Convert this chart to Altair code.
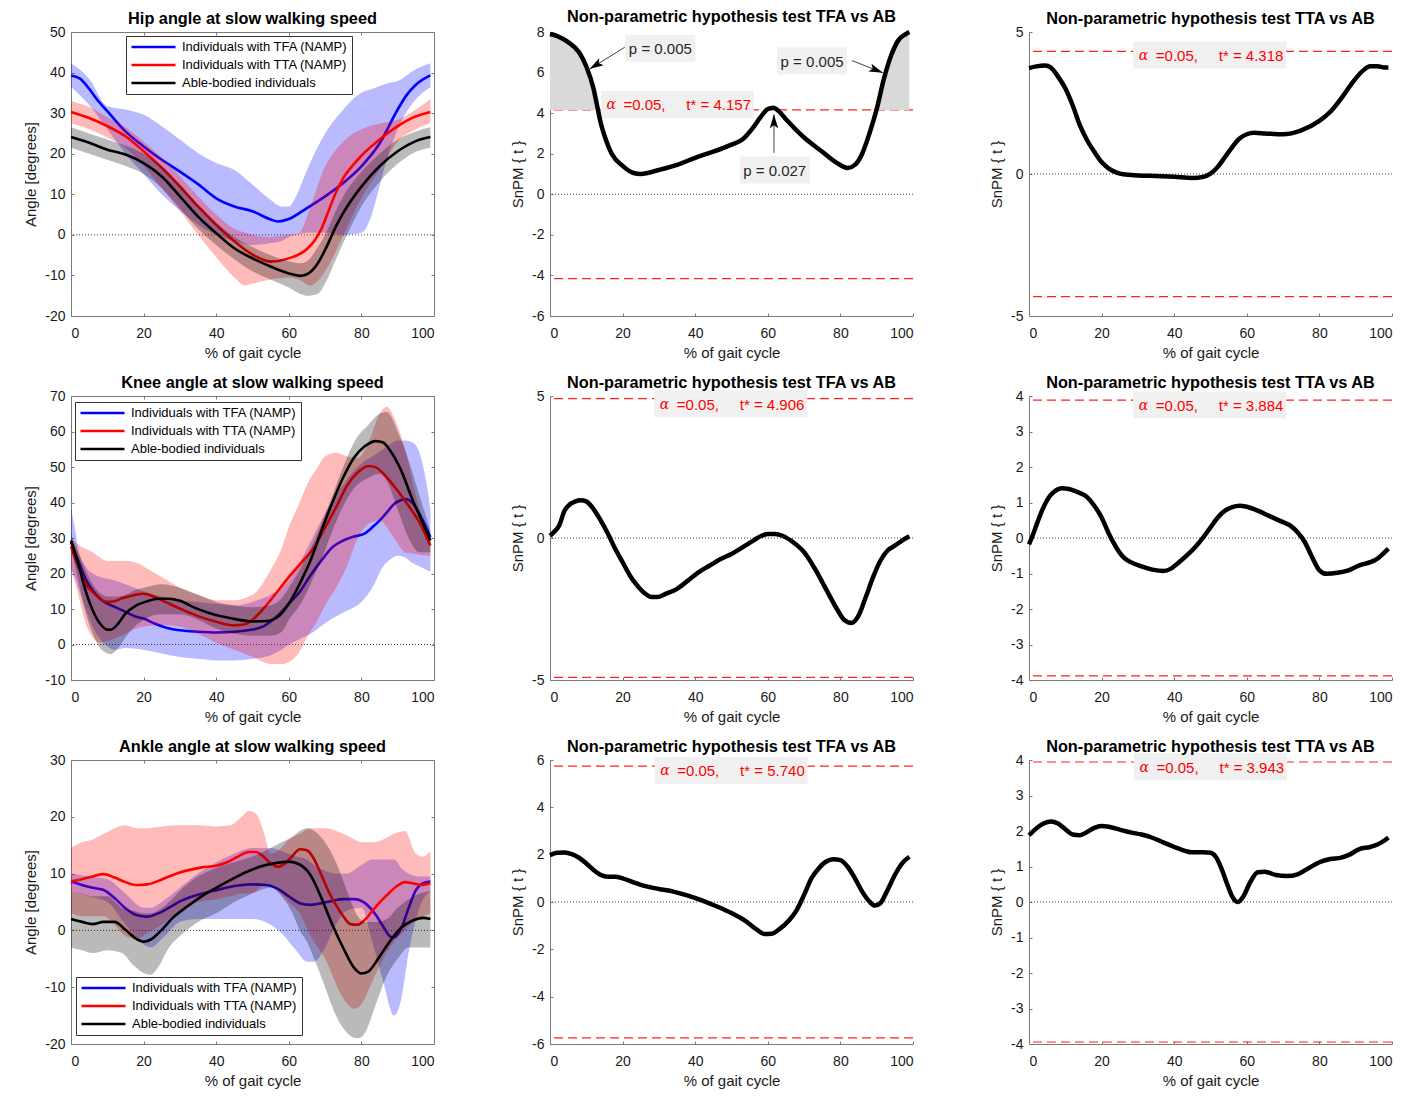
import altair as alt
import pandas as pd

FONT = "Liberation Sans"
TFA = "Individuals with TFA (NAMP)"
TTA = "Individuals with TTA (NAMP)"
AB = "Able-bodied individuals"
GROUPS = [TFA, TTA, AB]
GROUP_COLORS = ["#0000ff", "#ff0000", "#000000"]
X_TICKS = [0, 20, 40, 60, 80, 100]

# ---------------- Hip angle ----------------
HIP_TFA_X = [0, 2.5, 5, 7.5, 10, 15, 20, 25, 30, 35, 40, 45, 50, 55, 57, 60, 65, 70, 75, 80, 85, 90, 92.5, 95, 99]
HIP_TFA_Y = [39.3, 38.5, 36, 33, 30.5, 25.5, 21.8, 18.5, 15.6, 12.5, 9, 7, 5.8, 3.8, 3.3, 3.9, 6.6, 9.5, 12.8, 16.9, 22.5, 30.9, 34.5, 37, 39.3]
HIP_TFA_BX = [0, 5, 10, 15, 20, 25, 30, 35, 40, 45, 50, 55, 58, 60, 62, 65, 70, 75, 80, 83, 85, 87, 90, 95, 99]
HIP_TFA_LO = [36.5, 32, 26, 20, 15, 10, 6, 2.5, 0, -1.5, -2.5, -2, -1.5, -0.5, 0, 0.5, 0.5, 0, 0.5, 5.4, 12, 18.5, 26, 33.4, 36.4]
HIP_TFA_HI = [42.3, 38.5, 31.7, 30.9, 29.6, 26.8, 23.5, 20.2, 17.7, 16, 12.4, 8.6, 7, 7, 9.5, 16, 25, 30.9, 35, 36, 36.7, 37.3, 37.9, 40.8, 42.3]

HIP_TTA_X = [0, 5, 10, 15, 20, 25, 30, 35, 40, 45, 50, 55, 60, 65, 67, 69, 71, 73, 75, 78, 80, 85, 90, 95, 99]
HIP_TTA_Y = [30.3, 28.8, 26.8, 24.3, 20.6, 16.5, 11.9, 7, 2.5, -1.6, -4.9, -6.6, -5.8, -3.5, -1.5, 1.5, 6, 10.5, 14, 17.5, 19.5, 23.5, 26.8, 29.2, 30.3]
HIP_TTA_BX = [0, 5, 10, 15, 20, 25, 30, 35, 40, 45, 48, 50, 55, 60, 62.7, 66, 70, 73, 75.6, 80, 85.7, 90, 95, 99]
HIP_TTA_LO = [27.5, 26, 24, 21.5, 17, 11.5, 6, 0, -5.5, -10.5, -12.5, -12, -11, -10.5, -11, -12.5, -9, -4, 1, 9, 17, 23, 26, 27.5]
HIP_TTA_HI = [33, 31.5, 29, 26.5, 23, 19, 14.5, 9.5, 5, 1.5, 0.5, 0, -0.5, 0, 0.4, 7, 16.9, 21, 23.5, 26, 27.6, 28.4, 30.9, 33.4]

HIP_AB_X = [0, 5, 10, 15, 20, 25, 30, 35, 40, 45, 50, 55, 60, 63, 65, 68, 70, 73, 75, 80, 85, 90, 95, 99]
HIP_AB_Y = [24.1, 22.7, 21, 19.8, 17.7, 14.4, 9.5, 4.5, 0.4, -3.3, -5.8, -7.8, -9.5, -10.1, -9.7, -7, -3.7, 2.1, 5.4, 11.9, 16.9, 20.6, 23.1, 24.1]
HIP_AB_LO = [21.5, 20, 18.5, 17, 15, 11.5, 6.5, 1.5, -2.5, -6, -9, -11, -13, -14.5, -15, -14.5, -12, -6, -2, 7, 13, 17.5, 20.5, 21.5]
HIP_AB_HI = [26.5, 25, 23.5, 22, 20, 17, 12.5, 7.5, 3, -0.5, -3, -5, -6.5, -7, -6.5, -3, 0, 6, 9.5, 15.5, 20, 23.5, 25.5, 26.5]

# ---------------- Knee angle ----------------
KNEE_TFA_X = [0, 2, 4, 6, 8, 10, 12, 15, 18, 20, 23, 26, 30, 35, 40, 45, 50, 53, 56, 58, 60, 63, 66, 69, 72, 75, 78, 81, 83, 85, 87, 89, 91, 92, 94, 96, 98, 99]
KNEE_TFA_Y = [28.8, 23.7, 18.5, 15.2, 12.9, 11.5, 10.6, 9.2, 7.8, 7.3, 5.9, 4.8, 4.0, 3.6, 3.4, 3.6, 4.2, 5.1, 7.3, 9.2, 11.5, 14.8, 19.5, 23.7, 27.4, 29.3, 30.4, 31.3, 33.0, 34.9, 37.2, 39.6, 40.7, 41.0, 40.0, 36.8, 32.6, 30.2]
KNEE_TFA_BX = [0, 1, 2, 4, 6, 8, 10, 12, 15, 20, 25, 30, 35, 40, 45, 50, 55, 58, 60, 63, 66, 70, 75, 78, 80, 83, 86, 88, 90, 92, 94, 96, 98, 99]
KNEE_TFA_LO = [21, 19, 16, 10, 5, 1.5, -0.5, -1.5, -1, -1.5, -2.5, -3.5, -4, -4.5, -4.5, -4, -3, -1.5, 0, 1.5, 3, 6, 9, 10.5, 12, 16, 22, 24, 25, 24.5, 23, 22, 21, 20.5]
KNEE_TFA_HI = [38.6, 33, 27, 22, 20, 19, 18.5, 18, 17, 15, 13.5, 12.5, 12, 11.5, 11, 12, 14, 16, 18, 23, 29, 37, 45, 49, 51, 53, 55, 56.5, 57.5, 57.5, 57, 54, 45, 38]

KNEE_TTA_X = [0, 2, 4, 6, 8, 10, 12, 14, 17, 20, 23, 26, 30, 35, 40, 45, 48, 50, 53, 56, 60, 64, 67, 70, 73, 76, 79, 82, 84, 87, 90, 93, 96, 99]
KNEE_TTA_Y = [27.6, 22, 17, 14.8, 12.9, 12.0, 12.2, 13, 13.8, 14.3, 13.4, 12.0, 10.1, 8.0, 6.4, 5.4, 5.7, 7.0, 10.1, 13.8, 19.0, 23.7, 27.4, 33.0, 38.6, 44.7, 48.5, 50.3, 49.9, 47.1, 43.3, 39.1, 34.4, 27.9]
KNEE_TTA_BX = [0, 2, 4, 6, 8, 10, 15, 18, 20, 25, 30, 35, 40, 45, 50, 55, 58, 60, 63, 65, 68, 70, 73, 76, 79, 82, 85, 87, 89, 92, 95, 98, 99]
KNEE_TTA_LO = [22, 14, 6, 2, 0.5, 1, 3, 4.5, 5, 5.5, 5, 3, 0.5, -1.5, -3.5, -5.5, -5.5, -5, -2, 2, 7, 11, 16, 22, 30, 34, 35, 33, 30, 26, 25.5, 25, 25]
KNEE_TTA_HI = [30, 28, 27, 26, 24.5, 23.5, 23.5, 23, 22, 19, 16, 14, 12.5, 12.5, 14, 21, 27, 33, 40, 45, 50, 53, 54, 53, 52.5, 57, 65, 67, 64, 55, 42, 32, 29]

KNEE_AB_X = [0, 2, 4, 6, 8, 10, 11, 13, 15, 18, 21, 24, 27, 30, 34, 38, 42, 46, 50, 54, 57, 60, 63, 66, 69, 72, 75, 78, 81, 84, 86, 88, 91, 94, 97, 99]
KNEE_AB_Y = [29.3, 22.7, 15.2, 9.6, 5.9, 4.2, 4.2, 5.9, 8.7, 11.0, 12.2, 12.9, 12.9, 12.3, 10.4, 8.9, 7.8, 7.0, 6.5, 6.6, 7.8, 11.5, 17.1, 23.7, 32.1, 40.0, 47.1, 52.7, 55.9, 57.3, 56.9, 54.5, 48.9, 41.0, 34.0, 29.3]
KNEE_AB_BX = [0, 2, 4, 6, 8, 10, 11, 13, 15, 18, 20, 25, 30, 35, 40, 45, 50, 55, 58, 60, 63, 66, 69, 72, 75, 78, 82, 85, 87, 90, 93, 96, 99]
KNEE_AB_LO = [27, 18, 9, 3, -1, -2.5, -2.7, -1, 2, 5.5, 7, 8.5, 8.5, 7, 4.5, 3, 2.5, 2.5, 3.5, 7, 11, 17, 24, 32, 39, 44, 47, 48, 46, 38, 30, 26, 26]
KNEE_AB_HI = [31, 26, 21, 17, 14.5, 13.5, 13.5, 13.5, 14, 15.5, 16, 17, 16, 14, 12, 11, 10.5, 11, 13, 16, 21, 27, 34, 42, 50, 57, 62, 65, 65.5, 60, 52, 42, 32]

# ---------------- Ankle angle ----------------
ANK_TFA_X = [0, 3, 6, 9, 12, 15, 18, 21, 24, 27, 30, 34, 38, 42, 46, 50, 54, 57, 60, 63, 66, 69, 72, 75, 78, 81, 84, 86, 88, 89, 91, 93, 95, 97, 99]
ANK_TFA_Y = [8.6, 8.0, 7.5, 7.1, 5.7, 3.9, 2.7, 2.4, 3.0, 4.0, 5.1, 6.1, 6.8, 7.4, 7.9, 8.1, 8.0, 7.3, 6.0, 4.8, 4.5, 4.8, 5.2, 5.5, 5.5, 4.8, 2.7, 0.7, -1.1, -1.2, 0.4, 3.9, 7.1, 8.3, 8.6]
ANK_TFA_BX = [0, 5, 10, 15, 20, 22, 25, 30, 35, 40, 45, 50, 55, 58, 62, 65, 67, 70, 73, 76, 80, 83, 86, 89, 91, 93, 96, 99]
ANK_TFA_LO = [7, 6, 5, 1, -2.5, -3, -1.5, 1.5, 2, 2, 2, 2, 1, -0.5, -3.5, -5.5, -5.5, -3, 1, 3.5, 4, -2, -9, -15, -12, -4, 4, 7]
ANK_TFA_HI = [10, 9.5, 9, 6.5, 4, 4, 5, 7.5, 10, 12, 13.5, 14.5, 14.5, 14, 13, 12.5, 11.5, 10.5, 10, 10, 11.5, 12.5, 12.5, 12.5, 11, 10, 9.5, 9.5]

ANK_TTA_X = [0, 3, 6, 9, 12, 15, 18, 21, 24, 27, 30, 33, 36, 40, 43, 46, 49, 51, 53, 55, 57, 59, 61, 63, 65, 67, 69, 71, 73, 75, 77, 79, 81, 84, 87, 90, 92, 94, 97, 99]
ANK_TTA_Y = [8.6, 9.0, 9.5, 9.9, 9.3, 8.5, 8.0, 8.1, 8.7, 9.5, 10.2, 10.7, 11.1, 11.4, 12.0, 13.0, 13.8, 13.8, 13.0, 11.8, 11.2, 11.8, 13.1, 14.3, 14.1, 12.5, 9.7, 6.8, 4.5, 2.5, 1.1, 1.0, 1.9, 4.2, 6.2, 7.9, 8.5, 8.3, 8.0, 8.3]
ANK_TTA_BX = [0, 3, 6, 9, 12, 15, 18, 21, 25, 30, 35, 40, 44, 47, 49, 51, 53, 55, 57, 60, 63, 66, 70, 75, 78, 80, 83, 86, 89, 92, 95, 97, 99]
ANK_TTA_LO = [3, 2.5, 2.5, 2.5, 1, -1, -1.5, -0.5, 1, 3.5, 5, 5.5, 6, 6.5, 6.5, 7, 8, 8, 7, 5, 3, -1, -5, -12, -13.8, -13, -9, -5, -2, 0, 2, 2.5, 3]
ANK_TTA_HI = [14.5, 15.5, 16, 17, 18, 18.5, 18, 18, 18.3, 18.5, 18.5, 18.3, 18.5, 20, 21, 20.5, 17.5, 13.5, 14, 16, 17, 18, 18, 17, 16, 15.5, 15.5, 16, 17, 17.5, 13.5, 13, 14]

ANK_AB_X = [0, 3, 6, 9, 12, 15, 18, 20, 22, 25, 28, 32, 36, 40, 44, 48, 52, 56, 60, 63, 66, 69, 72, 75, 78, 80, 82, 85, 88, 91, 94, 97, 99]
ANK_AB_Y = [2.0, 1.5, 1.1, 1.5, 1.5, 0.1, -1.5, -2.0, -1.6, 0.1, 2.2, 4.2, 6.0, 7.5, 8.9, 10.2, 11.2, 11.8, 12.1, 11.6, 9.7, 5.7, 1.0, -3.1, -6.6, -7.6, -7.2, -4.6, -1.8, 0.5, 1.7, 2.2, 2.0]
ANK_AB_BX = [0, 3, 6, 10, 14, 17, 20, 22, 24, 27, 30, 35, 40, 45, 50, 55, 58, 61, 63, 65, 67, 70, 73, 76, 79, 81, 84, 87, 90, 93, 96, 99]
ANK_AB_LO = [-3, -3.5, -4, -3.5, -4, -6, -7.5, -7.8, -6.5, -3, -1, 1.5, 3, 5, 6.5, 7.5, 6, 3, 0, -2, -5, -10, -15, -18, -19, -18, -13, -8, -5, -3, -3, -3]
ANK_AB_HI = [7, 6.5, 6, 6, 4, 3.5, 3, 3, 3.5, 5, 7, 9.5, 11, 12, 13, 14.5, 15.5, 16.5, 17.5, 18, 17.5, 15.5, 12, 7, 2.5, 1.5, 1.5, 2, 4, 5.5, 6.5, 7]

# ---------------- SnPM{t} curves ----------------
HIP_SPM_TFA_X = [0, 2, 5, 8, 10, 12, 13, 14, 15, 17, 20, 23, 25, 30, 35, 40, 45, 50, 53, 56, 58, 60, 61.5, 63, 65, 70, 75, 79, 82, 84, 86, 88, 90, 92, 94, 96, 98, 99]
HIP_SPM_TFA_T = [7.9, 7.8, 7.5, 7.0, 6.3, 5.2, 4.35, 3.5, 2.9, 2.0, 1.4, 1.05, 1.0, 1.2, 1.45, 1.8, 2.1, 2.45, 2.7, 3.3, 3.8, 4.2, 4.27, 4.1, 3.7, 2.8, 2.1, 1.55, 1.3, 1.45, 2.0, 3.0, 4.2, 5.7, 6.85, 7.6, 7.9, 8.0]
HIP_SPM_TTA_X = [0, 2, 4.5, 6, 8, 10, 12, 14, 16, 18, 20, 22, 24, 26, 30, 35, 40, 45, 48, 50, 52, 54, 56, 58, 60, 62, 65, 70, 75, 80, 83, 86, 89, 92, 94, 96, 98, 99]
HIP_SPM_TTA_T = [3.73, 3.79, 3.82, 3.75, 3.43, 3.02, 2.43, 1.72, 1.19, 0.78, 0.42, 0.19, 0.06, -0.01, -0.05, -0.07, -0.1, -0.14, -0.1, 0.01, 0.25, 0.6, 0.95, 1.25, 1.4, 1.45, 1.43, 1.4, 1.54, 1.87, 2.19, 2.66, 3.2, 3.64, 3.79, 3.79, 3.75, 3.75]
KNEE_SPM_TFA_X = [0, 1, 2.5, 4, 5, 7, 8.5, 10, 12, 14, 16, 18, 20, 22, 24, 26, 28, 29.5, 32, 35, 38, 41, 44, 47, 50, 53, 56, 58, 60, 62, 64, 67, 70, 73, 76, 79, 81, 83, 85, 87, 89, 91, 93, 95, 97, 99]
KNEE_SPM_TFA_T = [0.08, 0.2, 0.43, 0.96, 1.13, 1.29, 1.33, 1.29, 1.02, 0.61, 0.14, -0.39, -0.85, -1.32, -1.67, -1.94, -2.08, -2.08, -1.96, -1.79, -1.5, -1.2, -0.97, -0.74, -0.56, -0.33, -0.09, 0.06, 0.14, 0.14, 0.08, -0.15, -0.5, -1.09, -1.79, -2.49, -2.88, -2.99, -2.73, -2.08, -1.38, -0.8, -0.44, -0.27, -0.09, 0.06]
KNEE_SPM_TTA_X = [0, 1, 2.5, 4, 5.5, 7, 9, 11, 13, 16, 18, 20, 22, 24, 26, 28, 31, 34, 37, 39, 41, 44, 46, 48, 50, 52, 54, 56, 58, 60, 63, 66, 69, 72, 74, 76, 78, 80, 82, 85, 88, 91, 94, 96, 98, 99]
KNEE_SPM_TTA_T = [-0.18, 0.07, 0.49, 0.87, 1.15, 1.31, 1.4, 1.38, 1.31, 1.15, 0.91, 0.58, 0.12, -0.26, -0.54, -0.68, -0.8, -0.89, -0.93, -0.87, -0.71, -0.44, -0.23, 0.02, 0.3, 0.58, 0.77, 0.87, 0.91, 0.88, 0.77, 0.63, 0.49, 0.35, 0.16, -0.12, -0.54, -0.91, -1.01, -0.98, -0.91, -0.77, -0.68, -0.58, -0.4, -0.3]
ANK_SPM_TFA_X = [0, 2, 4, 6, 8, 10, 12, 14, 16, 18, 20, 23, 26, 30, 34, 38, 42, 46, 50, 54, 57, 59, 61, 63, 66, 68, 70, 72, 74, 76, 78, 80, 82, 84, 86, 88, 89.5, 91, 93, 95, 97, 99]
ANK_SPM_TFA_T = [1.98, 2.08, 2.09, 2.02, 1.87, 1.63, 1.35, 1.14, 1.07, 1.07, 1.0, 0.83, 0.68, 0.55, 0.44, 0.27, 0.06, -0.19, -0.47, -0.82, -1.17, -1.35, -1.34, -1.17, -0.75, -0.33, 0.3, 1.0, 1.42, 1.7, 1.81, 1.77, 1.49, 1.0, 0.44, 0.02, -0.15, -0.05, 0.51, 1.14, 1.63, 1.91]
ANK_SPM_TTA_X = [0, 2, 4, 6, 8, 10, 12, 14, 16, 18, 20, 22, 25, 28, 31, 34, 37, 40, 43, 45, 48, 50, 51.5, 53, 54.5, 56, 57.5, 59, 61, 63, 65, 68, 71, 74, 77, 80, 83, 86, 88, 91, 94, 96, 98, 99]
ANK_SPM_TTA_T = [1.88, 2.07, 2.21, 2.27, 2.21, 2.05, 1.9, 1.88, 1.97, 2.09, 2.14, 2.12, 2.04, 1.96, 1.9, 1.81, 1.68, 1.55, 1.44, 1.4, 1.4, 1.39, 1.27, 0.95, 0.53, 0.15, 0.0, 0.15, 0.57, 0.84, 0.85, 0.76, 0.73, 0.78, 0.95, 1.12, 1.21, 1.25, 1.32, 1.49, 1.55, 1.62, 1.74, 1.82]

# critical thresholds t* and where their labels sit (x, y in data units)
T_STAR = {"hip_tfa": 4.157, "hip_tta": 4.318, "knee_tfa": 4.906, "knee_tta": 3.884, "ank_tfa": 5.740, "ank_tta": 3.943}
T_LABEL_X = {"hip_tfa": 35.1, "hip_tta": 49.8, "knee_tfa": 49.8, "knee_tta": 49.8, "ank_tfa": 49.9, "ank_tta": 50.0}
T_LABEL_Y = {"hip_tfa": 4.43, "hip_tta": 4.19, "knee_tfa": 4.73, "knee_tta": 3.75, "ank_tfa": 5.56, "ank_tta": 3.81}

# p-value annotations on the hip TFA vs AB panel
P_LABELS = ["p = 0.005", "p = 0.005", "p = 0.027"]
P_X = [30.4, 72.2, 61.9]
P_Y = [7.2, 6.57, 1.2]
ARROW_X0 = [20.6, 83.2, 61.7]
ARROW_Y0 = [7.25, 6.59, 2.04]
ARROW_X1 = [10.9, 91.7, 61.7]
ARROW_Y1 = [6.17, 5.99, 3.94]
ARROW_ANGLE = [238, 112, 0]

W, H = 363, 284
AXIS_COLOR = "#7a7a7a"
TEXT_COLOR = "#1a1a1a"
ALPHA_BOX = "M-1,-0.176L1,-0.176L1,0.176L-1,0.176Z"
P_BOX = "M-1,-0.386L1,-0.386L1,0.386L-1,0.386Z"
ARROW_HEAD = "M0,0L-0.3,1L0,0.78L0.3,1Z"
XSCALE = alt.Scale(domain=[0, 100], nice=False, zero=False)


def X(field="x", axis=None):
    return alt.X(f"{field}:Q", scale=XSCALE, axis=axis)


def Y(field, dom, axis=None):
    return alt.Y(f"{field}:Q", scale=alt.Scale(domain=dom, nice=False, zero=False), axis=axis)


def label_axis_x():
    return alt.Axis(orient="bottom", values=X_TICKS, title="% of gait cycle",
                    labelExpr="'' + datum.value", ticks=False, domain=True)


def label_axis_y(vals, title):
    return alt.Axis(orient="left", values=vals, title=title,
                    labelExpr="'' + datum.value", ticks=False, domain=True)


def tick_axis(orient, vals):
    # an axis pulled inside the plot by its own tick length: MATLAB-style inward ticks
    return alt.Axis(orient=orient, values=vals, offset=-3, ticks=True, tickSize=3, tickWidth=1,
                    tickColor=AXIS_COLOR, labels=False, domain=False, title=None)


def axis_layers(df, yfield, dom, vals, ytitle, box):
    base = alt.Chart(df).mark_point(opacity=0, size=1)
    layers = [
        base.encode(x=X("x", label_axis_x()), y=Y(yfield, dom, label_axis_y(vals, ytitle))),
        base.encode(x=X("x", tick_axis("bottom", X_TICKS)), y=Y(yfield, dom, tick_axis("left", vals))),
    ]
    if box:
        layers.append(base.encode(x=X("x", tick_axis("top", X_TICKS)),
                                  y=Y(yfield, dom, tick_axis("right", vals))))
    return layers


def angle_panel(title, dom, vals, series, lx, ly):
    ytitle = "Angle [degrees]"
    first = pd.DataFrame({"x": series[0][2], "y": series[0][3]})
    layers = axis_layers(first, "y", dom, vals, ytitle, True)
    layers.append(
        alt.Chart(pd.DataFrame({"z": [0]})).mark_rule(
            color="#404040", strokeDash=[1, 2], strokeWidth=1
        ).encode(y=Y("z", dom))
    )
    for g, col, mx, my, bx, blo, bhi in series:
        band = pd.DataFrame({"x": bx, "lo": blo, "hi": bhi})
        layers.append(
            alt.Chart(band).mark_area(color=col, opacity=0.27, interpolate="monotone").encode(
                x=X(), y=Y("lo", dom), y2="hi:Q")
        )
        line = pd.DataFrame({"x": mx, "y": my, "g": g})
        layers.append(
            alt.Chart(line).mark_line(strokeWidth=2.6, interpolate="monotone").encode(
                x=X(), y=Y("y", dom),
                color=alt.Color("g:N", scale=alt.Scale(domain=GROUPS, range=GROUP_COLORS),
                                legend=alt.Legend(
                                    title=None, orient="none", legendX=lx, legendY=ly,
                                    symbolType="stroke", symbolStrokeWidth=2.6, symbolSize=1936,
                                    clipHeight=14, labelFontSize=13, labelFont=FONT, labelColor="#000",
                                    strokeColor="#333333", fillColor="white", padding=4,
                                    rowPadding=4, labelLimit=400, labelOffset=5)))
        )
    return alt.layer(*layers).resolve_axis(x="independent", y="independent").properties(
        width=W, height=H, title=title,
        view=alt.ViewBackground(stroke=AXIS_COLOR, strokeWidth=1))


def spm_panel(title, dom, vals, xs, ts, key, shade=False, pvals=False):
    ytitle = "SnPM { t }"
    t = T_STAR[key]
    curve = pd.DataFrame({"x": xs, "t": ts})
    layers = axis_layers(curve, "t", dom, vals, ytitle, False)
    layers += [
        alt.Chart(pd.DataFrame({"z": [0]})).mark_rule(
            color="#404040", strokeDash=[1, 2], strokeWidth=1
        ).encode(y=Y("z", dom)),
        alt.Chart(pd.DataFrame({"thr": [t, -t]})).mark_rule(
            color="#ff2020", strokeDash=[9, 5], strokeWidth=1.2
        ).encode(y=Y("thr", dom)),
    ]
    if shade:
        sh = curve.assign(top=curve["t"].clip(lower=t), base=t)
        layers.append(
            alt.Chart(sh).mark_area(color="#d9d9d9", opacity=1).encode(
                x=X(), y=Y("base", dom), y2="top:Q")
        )
    lab = pd.DataFrame({"x": [T_LABEL_X[key]], "y": [T_LABEL_Y[key]],
                        "a": ["α"], "txt": ["=0.05,\u00a0\u00a0\u00a0\u00a0\u00a0t* = %.3f" % t]})
    layers += [
        alt.Chart(lab).mark_point(shape=ALPHA_BOX, size=153 ** 2, filled=True, color="#f0f0f0",
                                  opacity=1, strokeWidth=0).encode(x=X(), y=Y("y", dom)),
        alt.Chart(lab).mark_text(align="left", baseline="middle", dx=-71, dy=1, font="DejaVu Serif",
                                 fontStyle="italic", fontSize=14, color="#ff0000").encode(
            x=X(), y=Y("y", dom), text="a:N"),
        alt.Chart(lab).mark_text(align="left", baseline="middle", dx=-54, dy=1, font=FONT,
                                 fontSize=15, color="#ff0000").encode(
            x=X(), y=Y("y", dom), text="txt:N"),
    ]
    if pvals:
        pl = pd.DataFrame({"x": P_X, "y": P_Y, "label": P_LABELS})
        layers += [
            alt.Chart(pl).mark_point(shape=P_BOX, size=70 ** 2, filled=True, color="#f0f0f0",
                                     opacity=1, strokeWidth=0).encode(x=X(), y=Y("y", dom)),
            alt.Chart(pl).mark_text(align="center", baseline="middle", dy=1, font=FONT, fontSize=15,
                                    color="#262626").encode(x=X(), y=Y("y", dom), text="label:N"),
        ]
    layers.append(
        alt.Chart(curve).mark_line(color="#000000", strokeWidth=4.5, interpolate="monotone").encode(
            x=X(), y=Y("t", dom))
    )
    if pvals:
        ar = pd.DataFrame({"x0": ARROW_X0, "y0": ARROW_Y0, "x1": ARROW_X1, "y1": ARROW_Y1,
                           "ang": ARROW_ANGLE})
        layers += [
            alt.Chart(ar).mark_rule(color="#404040", strokeWidth=1).encode(
                x=X("x0"), y=Y("y0", dom), x2="x1:Q", y2="y1:Q"),
            alt.Chart(ar).mark_point(shape=ARROW_HEAD, size=28 ** 2, filled=True, color="#000000",
                                     opacity=1, strokeWidth=0).encode(
                x=X("x1"), y=Y("y1", dom), angle=alt.Angle("ang:Q", scale=None)),
        ]
    return alt.layer(*layers).resolve_axis(x="independent", y="independent").properties(
        width=W, height=H, title=title)


hip = angle_panel("Hip angle at slow walking speed", [-20, 50], list(range(-20, 51, 10)), [
    (TFA, "#0000ff", HIP_TFA_X, HIP_TFA_Y, HIP_TFA_BX, HIP_TFA_LO, HIP_TFA_HI),
    (TTA, "#ff0000", HIP_TTA_X, HIP_TTA_Y, HIP_TTA_BX, HIP_TTA_LO, HIP_TTA_HI),
    (AB, "#000000", HIP_AB_X, HIP_AB_Y, HIP_AB_X, HIP_AB_LO, HIP_AB_HI),
], 55, 4)
knee = angle_panel("Knee angle at slow walking speed", [-10, 70], list(range(-10, 71, 10)), [
    (TFA, "#0000ff", KNEE_TFA_X, KNEE_TFA_Y, KNEE_TFA_BX, KNEE_TFA_LO, KNEE_TFA_HI),
    (TTA, "#ff0000", KNEE_TTA_X, KNEE_TTA_Y, KNEE_TTA_BX, KNEE_TTA_LO, KNEE_TTA_HI),
    (AB, "#000000", KNEE_AB_X, KNEE_AB_Y, KNEE_AB_BX, KNEE_AB_LO, KNEE_AB_HI),
], 4, 6)
ankle = angle_panel("Ankle angle at slow walking speed", [-20, 30], list(range(-20, 31, 10)), [
    (TFA, "#0000ff", ANK_TFA_X, ANK_TFA_Y, ANK_TFA_BX, ANK_TFA_LO, ANK_TFA_HI),
    (TTA, "#ff0000", ANK_TTA_X, ANK_TTA_Y, ANK_TTA_BX, ANK_TTA_LO, ANK_TTA_HI),
    (AB, "#000000", ANK_AB_X, ANK_AB_Y, ANK_AB_BX, ANK_AB_LO, ANK_AB_HI),
], 5, 217)

T_TFA = "Non-parametric hypothesis test TFA vs AB"
T_TTA = "Non-parametric hypothesis test TTA vs AB"
p_hip_tfa = spm_panel(T_TFA, [-6, 8], list(range(-6, 9, 2)), HIP_SPM_TFA_X, HIP_SPM_TFA_T, "hip_tfa",
                      shade=True, pvals=True)
p_hip_tta = spm_panel(T_TTA, [-5, 5], [-5, 0, 5], HIP_SPM_TTA_X, HIP_SPM_TTA_T, "hip_tta")
p_knee_tfa = spm_panel(T_TFA, [-5, 5], [-5, 0, 5], KNEE_SPM_TFA_X, KNEE_SPM_TFA_T, "knee_tfa")
p_knee_tta = spm_panel(T_TTA, [-4, 4], list(range(-4, 5)), KNEE_SPM_TTA_X, KNEE_SPM_TTA_T, "knee_tta")
p_ank_tfa = spm_panel(T_TFA, [-6, 6], list(range(-6, 7, 2)), ANK_SPM_TFA_X, ANK_SPM_TFA_T, "ank_tfa")
p_ank_tta = spm_panel(T_TTA, [-4, 4], list(range(-4, 5)), ANK_SPM_TTA_X, ANK_SPM_TTA_T, "ank_tta")

chart = alt.concat(
    hip, p_hip_tfa, p_hip_tta,
    knee, p_knee_tfa, p_knee_tta,
    ankle, p_ank_tfa, p_ank_tta,
    columns=3, spacing={"row": 80, "column": 116}, bounds="flush",
).resolve_scale(
    x="independent", y="independent", color="independent"
).resolve_legend(color="independent").properties(
    padding={"left": 15, "top": 0, "right": 5, "bottom": 5}, background="white"
).configure_view(stroke=None).configure_axis(
    labelFont=FONT, titleFont=FONT, labelFontSize=14, titleFontSize=15, titleFontWeight="normal",
    labelColor=TEXT_COLOR, titleColor=TEXT_COLOR, domainColor=AXIS_COLOR, domainWidth=1,
    grid=False, ticks=False, labelPadding=6,
).configure_axisX(labelPadding=10, titlePadding=5).configure_axisY(titlePadding=6).configure_title(
    font=FONT, fontSize=16.3, fontWeight="bold", anchor="middle", offset=-2, color="#000000"
)

chart.save("out.html", embed_options={"renderer": "svg", "actions": False})
